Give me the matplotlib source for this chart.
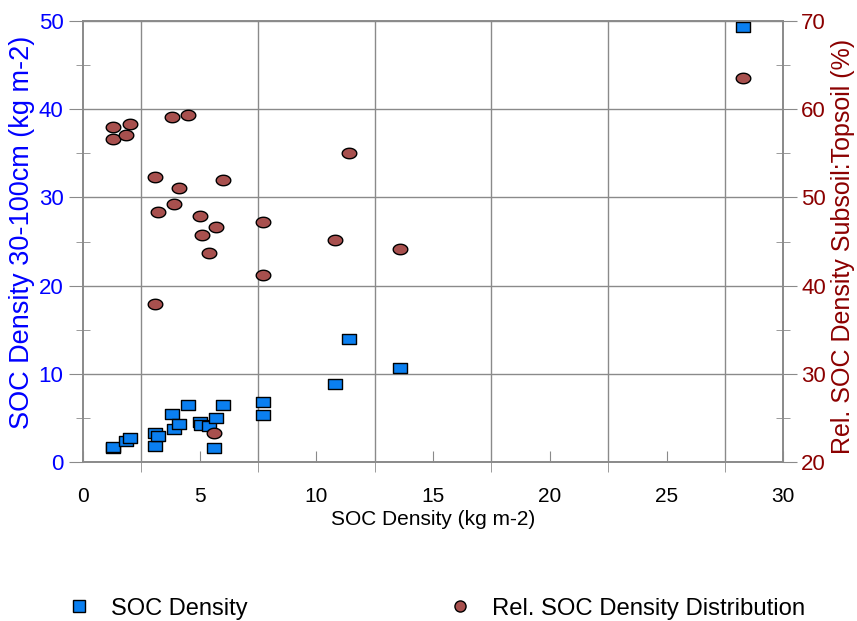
import matplotlib
matplotlib.use("Agg")
import matplotlib.pyplot as plt
from matplotlib.path import Path
from matplotlib.lines import Line2D
from matplotlib.ticker import MultipleLocator, FixedLocator
import numpy as np

plt.rcParams['font.family'] = ['Liberation Sans', 'DejaVu Sans']

# SOC density (x, kg m-2) and subsoil density (left axis)
soc_x = [1.3, 1.3, 1.83, 2.0, 3.1, 3.1, 3.2, 3.8, 3.9, 4.1, 4.5, 5.0, 5.05,
         5.4, 5.6, 5.7, 6.0, 7.7, 7.7, 10.8, 11.4, 13.6, 28.27]
soc_sub = [1.6, 1.7, 2.4, 2.7, 1.8, 3.3, 2.95, 5.4, 3.7, 4.3, 6.5, 4.5, 4.2,
           4.1, 1.6, 4.95, 6.46, 6.8, 5.3, 8.84, 13.9, 10.7, 49.3]

# relative SOC density subsoil:topsoil (%) (right axis)
rel_x = [1.3, 1.3, 1.83, 2.0, 3.1, 3.1, 3.2, 3.8, 3.9, 4.1, 4.5, 5.0, 5.1,
         5.4, 5.6, 5.7, 6.0, 7.7, 7.7, 10.8, 11.4, 13.6, 28.27]
rel_val = [58.0, 56.6, 57.1, 58.3, 52.3, 37.9, 48.4, 59.1, 49.3, 51.1, 59.4,
           47.9, 45.7, 43.7, 23.25, 46.7, 52.0, 47.2, 41.2, 45.2, 55.1, 44.2,
           63.5]

blue = '#0a7ff0'
brown = '#a8504e'
grey = '#8a8a8a'

# markers are wider than tall in the original
rect = Path([(-1, -0.72), (1, -0.72), (1, 0.72), (-1, 0.72), (-1, -0.72)],
            [Path.MOVETO, Path.LINETO, Path.LINETO, Path.LINETO, Path.CLOSEPOLY])
t = np.linspace(0, 2 * np.pi, 60)
ell = Path(np.column_stack([np.cos(t), 0.72 * np.sin(t)]), closed=True)

fig = plt.figure(figsize=(8.57, 6.21), dpi=100)
ax = fig.add_axes([0.0969, 0.256, 0.817, 0.710])
ax2 = ax.twinx()

ax.scatter(soc_x, soc_sub, marker=rect, s=110, c=blue, edgecolors='black',
           linewidths=1, zorder=3, clip_on=False)
ax2.scatter(rel_x, rel_val, marker=ell, s=110, c=brown, edgecolors='black',
            linewidths=1, zorder=3, clip_on=False)

ax.set_xlim(0, 30)
ax.set_ylim(0, 50)
ax2.set_ylim(20, 70)

ax.xaxis.set_major_locator(MultipleLocator(5))
ax.xaxis.set_minor_locator(FixedLocator([2.5, 7.5, 12.5, 17.5, 22.5, 27.5]))
ax.yaxis.set_major_locator(MultipleLocator(10))
ax.yaxis.set_minor_locator(MultipleLocator(5))
ax2.yaxis.set_major_locator(MultipleLocator(10))
ax2.yaxis.set_minor_locator(MultipleLocator(5))

ax.grid(True, which='minor', axis='x', color=grey, lw=1)
ax.grid(True, which='major', axis='y', color=grey, lw=1)
ax.set_axisbelow(True)

for a in (ax, ax2):
    for s in a.spines.values():
        s.set_color(grey)
        s.set_linewidth(1.2)

ax.tick_params(axis='x', which='major', direction='in', length=8, color=grey,
               pad=18, labelsize=15, labelcolor='black')
ax.tick_params(axis='x', which='minor', direction='out', length=7, color=grey)
ax.tick_params(axis='y', which='major', direction='out', length=10, color=grey,
               pad=4, labelsize=16, labelcolor='#0000ff')
ax.tick_params(axis='y', which='minor', direction='inout', length=10, color=grey)
ax2.tick_params(axis='y', which='major', direction='out', length=10, color=grey,
                pad=3, labelsize=16, labelcolor='#8b0000')
ax2.tick_params(axis='y', which='minor', direction='inout', length=10, color=grey)

ax.set_xlabel('SOC Density (kg m-2)', fontsize=15, labelpad=3)
ax.set_ylabel('SOC Density 30-100cm (kg m-2)', fontsize=19.5, color='#0000ff')
ax.yaxis.set_label_coords(-0.068, 0.52)
ax2.set_ylabel('Rel. SOC Density Subsoil:Topsoil (%)', fontsize=18,
               color='#8b0000')
ax2.yaxis.set_label_coords(1.068, 0.49)

# legend along the bottom edge
h1 = Line2D([], [], ls='none', marker='s', ms=8, mfc=blue, mec='black', mew=1)
h2 = Line2D([], [], ls='none', marker='o', ms=8, mfc=brown, mec='black', mew=1)
fig.legend([h1], ['SOC Density'], loc='center left',
           bbox_to_anchor=(0.067, 0.02), frameon=False, fontsize=17,
           handlelength=1, handletextpad=0.85, borderaxespad=0)
fig.legend([h2], ['Rel. SOC Density Distribution'], loc='center left',
           bbox_to_anchor=(0.5115, 0.02), frameon=False, fontsize=17.2,
           handlelength=1, handletextpad=0.85, borderaxespad=0)

fig.savefig('out.png', dpi=100)
